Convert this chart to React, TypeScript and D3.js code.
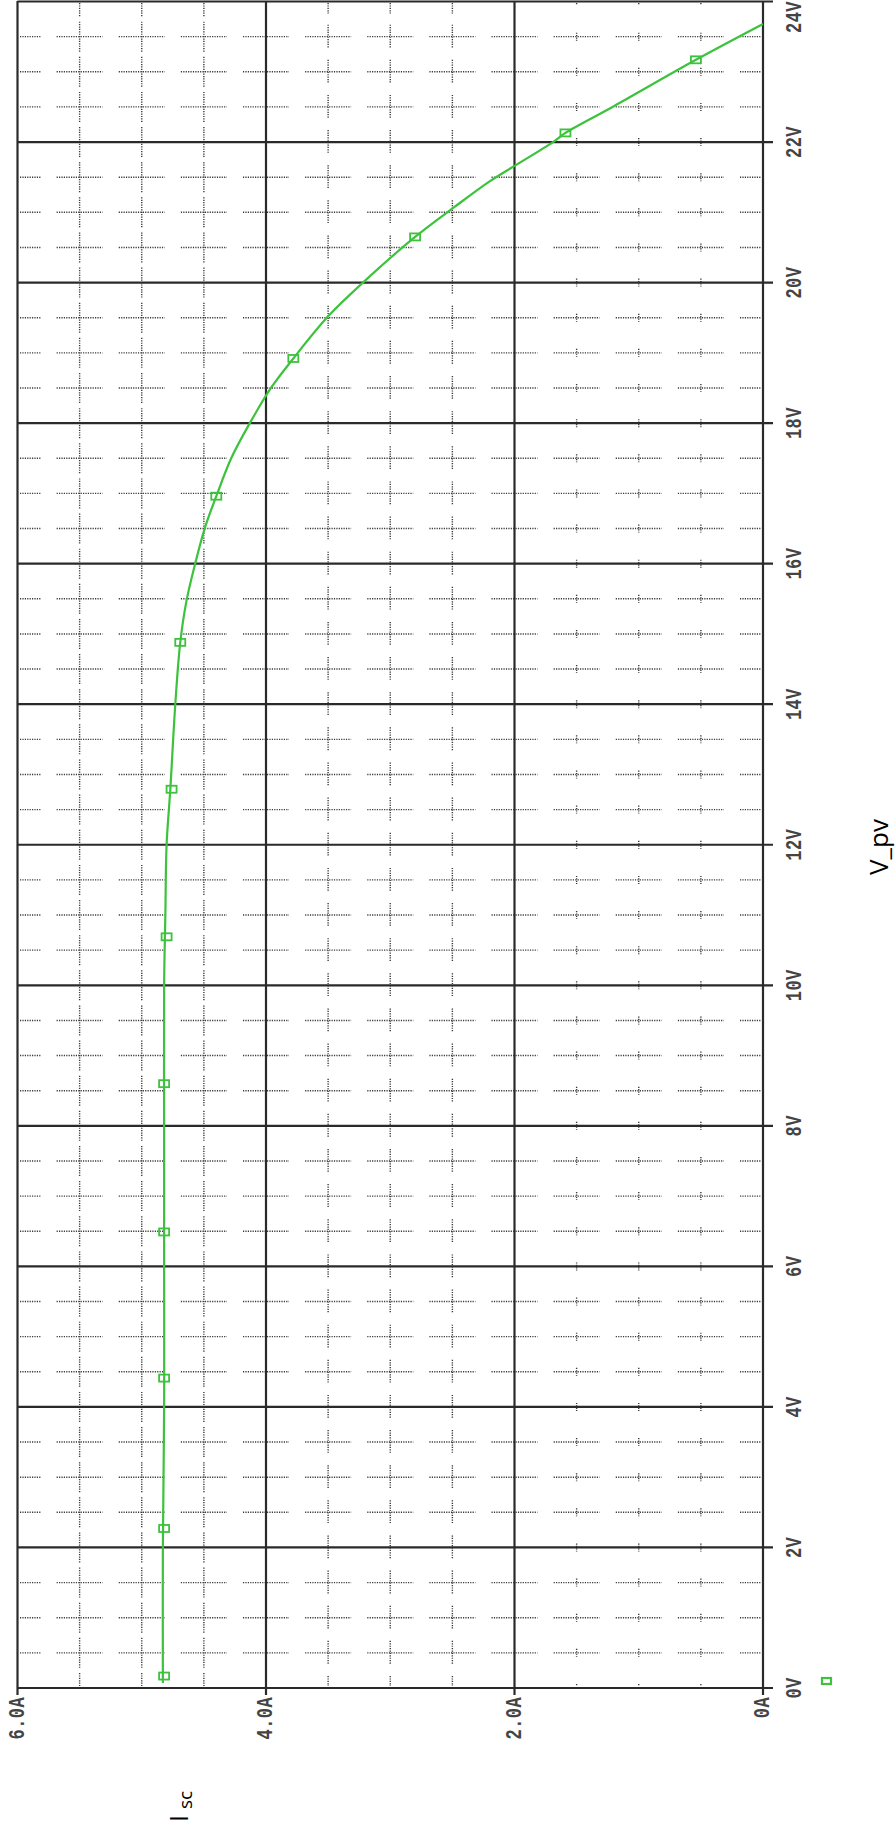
import React from "react";
import * as d3 from "d3";

// I-V curve of the PV module (voltage in V, current in A)
const curveV = [0.07, 2, 4, 6, 8, 10, 11, 12, 12.79, 14, 14.88, 15.47, 16, 16.52, 16.96, 17.5, 18, 18.5, 18.92, 19.52, 20, 20.65, 21.08, 21.44, 21.66, 22, 22.13, 22.51, 23.17, 23.68];
const curveI = [4.83, 4.83, 4.82, 4.82, 4.82, 4.82, 4.81, 4.80, 4.77, 4.73, 4.69, 4.64, 4.57, 4.49, 4.40, 4.28, 4.13, 3.96, 3.78, 3.50, 3.22, 2.80, 2.48, 2.20, 2.00, 1.69, 1.59, 1.20, 0.54, 0.0];

// marker positions
const markerV = [0.17, 2.27, 4.41, 6.49, 8.6, 10.69, 12.79, 14.88, 16.96, 18.92, 20.65, 22.13, 23.17];
const markerI = [4.82, 4.82, 4.82, 4.82, 4.82, 4.8, 4.76, 4.69, 4.4, 3.78, 2.8, 1.59, 0.54];

// ticks
const currentTicks = [0, 2, 4, 6];
const currentTickLabels = ["0A", "2.0A", "4.0A", "6.0A"];
const voltageTicks = [0, 2, 4, 6, 8, 10, 12, 14, 16, 18, 20, 22, 24];
const voltageTickLabels = ["0V", "2V", "4V", "6V", "8V", "10V", "12V", "14V", "16V", "18V", "20V", "22V", "24V"];

const GREEN = "#3cc23c";
const GRID = "#2a2a2a";
const DOT = "#3a3a3a";

export default function App() {
  const W = 895;
  const H = 1830;
  const x = d3.scaleLinear().domain([0, 6]).range([763, 17.5]);
  const y = d3.scaleLinear().domain([0, 24]).range([1688, 1.5]);

  const pts = curveV.map((v, i) => [x(curveI[i]), y(v)] as [number, number]);
  const line = d3.line().curve(d3.curveCatmullRom.alpha(0.5))(pts) || "";

  const minorI = d3.range(0, 6.001, 0.5);
  const minorV = d3.range(0, 24.001, 0.5);

  const dots: React.ReactNode[] = [];
  minorV.forEach((v, vi) => {
    if (Math.abs(v % 2) < 1e-6) return;
    minorI.forEach((c, ci) => {
      const cx = x(c);
      const cy = y(v);
      const x1 = Math.max(cx - 23, 20);
      const x2 = Math.min(cx + 23, 761);
      dots.push(
        <line key={`h${vi}-${ci}`} x1={x1} x2={x2} y1={cy} y2={cy} stroke={DOT} strokeWidth={1.4} strokeDasharray="1.2,1.2" />
      );
    });
  });
  minorI.forEach((c, ci) => {
    if (Math.abs(c % 2) < 1e-6) return;
    const half = c > 4 ? 15 : c > 2 ? 12 : 4;
    minorV.forEach((v, vi) => {
      const cx = x(c);
      const cy = y(v);
      const y1 = Math.max(cy - half, 3);
      const y2 = Math.min(cy + half, 1686);
      dots.push(
        <line key={`v${ci}-${vi}`} x1={cx} x2={cx} y1={y1} y2={y2} stroke={DOT} strokeWidth={1.4} strokeDasharray="1.2,1.2" />
      );
    });
  });

  const labelStyle: React.CSSProperties = {
    fontFamily: "'Liberation Mono', 'DejaVu Sans Mono', monospace",
    fontSize: 17,
    fontWeight: 600,
    fill: "#444",
    letterSpacing: 0.4,
  };

  return (
    <svg width={W} height={H} style={{ position: "absolute", left: 0, top: 0, background: "#fff" }}>
      <rect x={0} y={0} width={W} height={H} fill="#fff" />
      <g>{dots}</g>
      {voltageTicks.map((v) => (
        <line key={`mv${v}`} x1={17.5} x2={773} y1={y(v)} y2={y(v)} stroke={GRID} strokeWidth={2.2} />
      ))}
      {currentTicks.map((c) => (
        <line key={`mc${c}`} x1={x(c)} x2={x(c)} y1={1} y2={1695} stroke={GRID} strokeWidth={2.2} />
      ))}
      <path d={line} fill="none" stroke={GREEN} strokeWidth={2.2} />
      {markerV.map((v, i) => (
        <rect key={`m${i}`} x={x(markerI[i]) - 5} y={y(v) - 3.5} width={10} height={7} fill="none" stroke={GREEN} strokeWidth={1.8} />
      ))}
      {currentTicks.map((c, i) => (
        <text
          key={`cl${c}`}
          transform={`translate(${x(c)},1697) rotate(-90) scale(1,1.33)`}
          textAnchor="end"
          dominantBaseline="central"
          style={labelStyle}
        >
          {currentTickLabels[i]}
        </text>
      ))}
      {voltageTicks.map((v, i) => (
        <text
          key={`vl${v}`}
          transform={`translate(795,${Math.max(y(v), 17)}) rotate(-90) scale(1,1.33)`}
          textAnchor="middle"
          dominantBaseline="central"
          style={labelStyle}
        >
          {voltageTickLabels[i]}
        </text>
      ))}
      <rect x={822} y={1678} width={9} height={6} fill="none" stroke={GREEN} strokeWidth={2.2} />
      <text
        transform="translate(888,847) rotate(-90)"
        textAnchor="middle"
        style={{ fontFamily: "'Open Sans', sans-serif", fontSize: 26, fill: "#000" }}
      >
        V_pv
      </text>
      <text
        transform="translate(188,1822) rotate(-90)"
        textAnchor="start"
        style={{ fontFamily: "'Open Sans', sans-serif", fontSize: 25, fill: "#000" }}
      >
        I
        <tspan dx={6} dy={4} style={{ fontSize: 19 }}>
          sc
        </tspan>
      </text>
    </svg>
  );
}
